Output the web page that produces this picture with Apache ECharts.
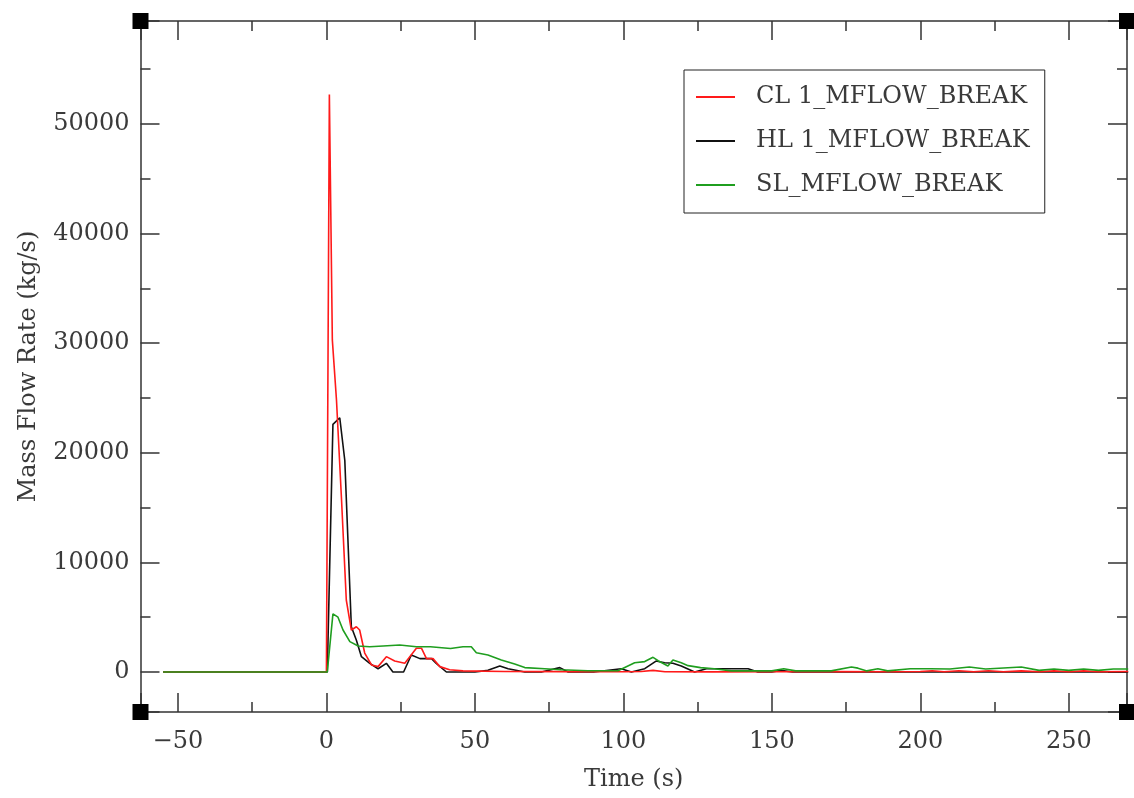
<!DOCTYPE html>
<html>
<head>
<meta charset="utf-8">
<title>Mass Flow Rate</title>
<script src="https://cdn.jsdelivr.net/npm/echarts@6/dist/echarts.min.js"></script>
<style>
  html, body { margin: 0; padding: 0; background: #fff; }
  #chart { width: 1134px; height: 798px; }
</style>
</head>
<body>
<div id="chart"></div>
<script>
// series names (legend order)
const seriesNames = ['CL 1_MFLOW_BREAK', 'HL 1_MFLOW_BREAK', 'SL_MFLOW_BREAK']

// CL 1 break flow (red)
const clTime = [-55, 0, 1, 2, 3.4, 5.1, 6.7, 8.4, 10.1, 11.2, 12.9, 15.2, 17.4, 20.2, 23, 26.4, 30.3, 32, 33.7, 35.9,
  38.2, 41.5, 46, 60, 80, 100, 106, 110, 114, 130, 150, 170, 190, 200, 204, 208, 213, 218, 223, 228,
  234, 240, 245, 250, 255, 260, 270]
const clFlow = [0, 0, 52700, 30300, 24800, 15700, 6570, 3830, 4130, 3830, 1730, 640, 490, 1400, 1000, 790, 2170, 2170, 1220, 1220,
  490, 200, 100, 50, 30, 20, 40, 150, 20, 10, 20, 30, 20, 40, 120, 20, 120, 20, 120, 20,
  100, 20, 100, 20, 100, 20, 50]

// HL 1 break flow (black)
const hlTime = [-55, 0.3, 2.2, 4.5, 6.2, 8.4, 10.1, 11.8, 14.6, 17.4, 20.2, 22.4, 26, 28.6, 31.5, 35.4, 37, 40.4, 50, 54.4,
  58.4, 61.2, 66.8, 72.4, 78.6, 81.4, 90, 99.3, 102.7, 107.2, 111, 113.9, 116.7, 119.5, 124, 128, 135, 142, 145.3, 150,
  153, 157, 170, 200, 230, 270]
const hlFlow = [0, 0, 22600, 23200, 19300, 4130, 2900, 1400, 790, 300, 790, 0, 0, 1550, 1220, 1220, 790, 0, 0, 150,
  550, 300, 0, 0, 400, 0, 0, 300, 0, 300, 1000, 850, 800, 550, 0, 300, 300, 300, 0, 0,
  150, 0, 0, 0, 0, 0]

// SL break flow (green)
const slTime = [-55, 0.3, 2.2, 3.9, 5.6, 7.9, 10.7, 14.6, 19.1, 24.7, 30.3, 35, 41.8, 46, 48.8, 50.5, 54.4, 58.9, 63.4, 66.8,
  73.5, 79, 88, 98.2, 103.8, 107.2, 110, 111.7, 115, 116.7, 119.5, 121.8, 126, 130.6, 136.4, 150, 154, 158, 170, 176.8,
  179, 182, 185.7, 189, 196.6, 203.3, 210, 216.5, 222, 234, 240, 245, 250, 255, 260, 265, 270]
const slFlow = [0, 0, 5300, 5000, 3830, 2770, 2370, 2300, 2370, 2460, 2300, 2300, 2150, 2300, 2300, 1760, 1550, 1100, 730, 400,
  300, 200, 120, 120, 850, 950, 1340, 1030, 550, 1100, 850, 580, 400, 300, 100, 100, 300, 100, 100, 450,
  350, 100, 300, 100, 300, 300, 270, 450, 270, 450, 150, 270, 150, 270, 150, 270, 270]

// axis extents
const xMin = -62.6
const xMax = 269.6
const yMin = -3650
const yMax = 59400

const font = 'DejaVu Serif'
const axisColor = '#333'
const textColor = '#3a3a3a'

function pairs(t, v) {
  return t.map((x, i) => [x, v[i]])
}

function xAxisCfg(pos, withLabel) {
  return {
    type: 'value',
    position: pos,
    min: xMin,
    max: xMax,
    splitNumber: 5,
    axisLine: { show: true, onZero: false, lineStyle: { color: axisColor, width: 1.5 } },
    axisTick: { show: true, inside: true, length: 19, lineStyle: { color: axisColor, width: 1.5 } },
    minorTick: { show: true, splitNumber: 2, length: 10, lineStyle: { color: axisColor, width: 1.5 } },
    splitLine: { show: false },
    axisLabel: {
      show: withLabel,
      showMinLabel: false,
      showMaxLabel: false,
      margin: 18,
      fontFamily: font,
      fontSize: 24,
      color: textColor,
      formatter: v => (v < 0 ? '\u2212' + Math.abs(v) : String(v))
    },
    name: withLabel ? 'Time (s)' : '',
    nameLocation: 'middle',
    nameGap: 56,
    nameTextStyle: { fontFamily: font, fontSize: 24, color: textColor }
  }
}

function yAxisCfg(pos, withLabel) {
  return {
    type: 'value',
    position: pos,
    min: yMin,
    max: yMax,
    splitNumber: 5,
    axisLine: { show: true, onZero: false, lineStyle: { color: axisColor, width: 1.5 } },
    axisTick: { show: true, inside: true, length: 19, lineStyle: { color: axisColor, width: 1.5 } },
    minorTick: { show: true, splitNumber: 2, length: 10, lineStyle: { color: axisColor, width: 1.5 } },
    splitLine: { show: false },
    axisLabel: {
      show: withLabel,
      showMinLabel: false,
      showMaxLabel: false,
      margin: 11,
      fontFamily: font,
      fontSize: 24,
      color: textColor,
      formatter: v => String(v)
    },
    name: withLabel ? 'Mass Flow Rate (kg/s)' : '',
    nameLocation: 'middle',
    nameGap: 100,
    nameTextStyle: { fontFamily: font, fontSize: 24, color: textColor }
  }
}

function lineSeries(name, data, color) {
  return {
    name: name,
    type: 'line',
    data: data,
    symbol: 'none',
    xAxisIndex: 0,
    yAxisIndex: 0,
    lineStyle: { color: color, width: 1.6 },
    itemStyle: { color: color }
  }
}

const option = {
  animation: false,
  backgroundColor: '#fff',
  grid: { left: 140.5, right: 7, top: 21, bottom: 86, containLabel: false },
  legend: {
    data: seriesNames,
    orient: 'vertical',
    left: 684,
    top: 70,
    padding: [15, 15, 16, 11],
    itemWidth: 39,
    itemHeight: 24,
    itemGap: 20,
    borderColor: '#222',
    borderWidth: 1,
    selectedMode: false,
    itemStyle: { opacity: 0 }, // hide the legend dot, keep the line
    textStyle: { fontFamily: font, fontSize: 24, color: textColor, padding: [0, 0, 0, 16] }
  },
  xAxis: [xAxisCfg('bottom', true), xAxisCfg('top', false)],
  yAxis: [yAxisCfg('left', true), yAxisCfg('right', false)],
  series: [
    lineSeries(seriesNames[1], pairs(hlTime, hlFlow), '#111'),
    lineSeries(seriesNames[0], pairs(clTime, clFlow), '#ff1a1a'),
    lineSeries(seriesNames[2], pairs(slTime, slFlow), '#1f9e1f'),
    {
      // frame corner markers
      type: 'scatter',
      silent: true,
      clip: false,
      symbol: 'rect',
      symbolSize: 16,
      itemStyle: { color: '#000', opacity: 1 },
      z: 10,
      data: [[xMin, yMin], [xMax, yMin], [xMin, yMax], [xMax, yMax]]
    }
  ]
}

const myChart = echarts.init(document.getElementById('chart'))
myChart.setOption(option)
</script>
</body>
</html>
